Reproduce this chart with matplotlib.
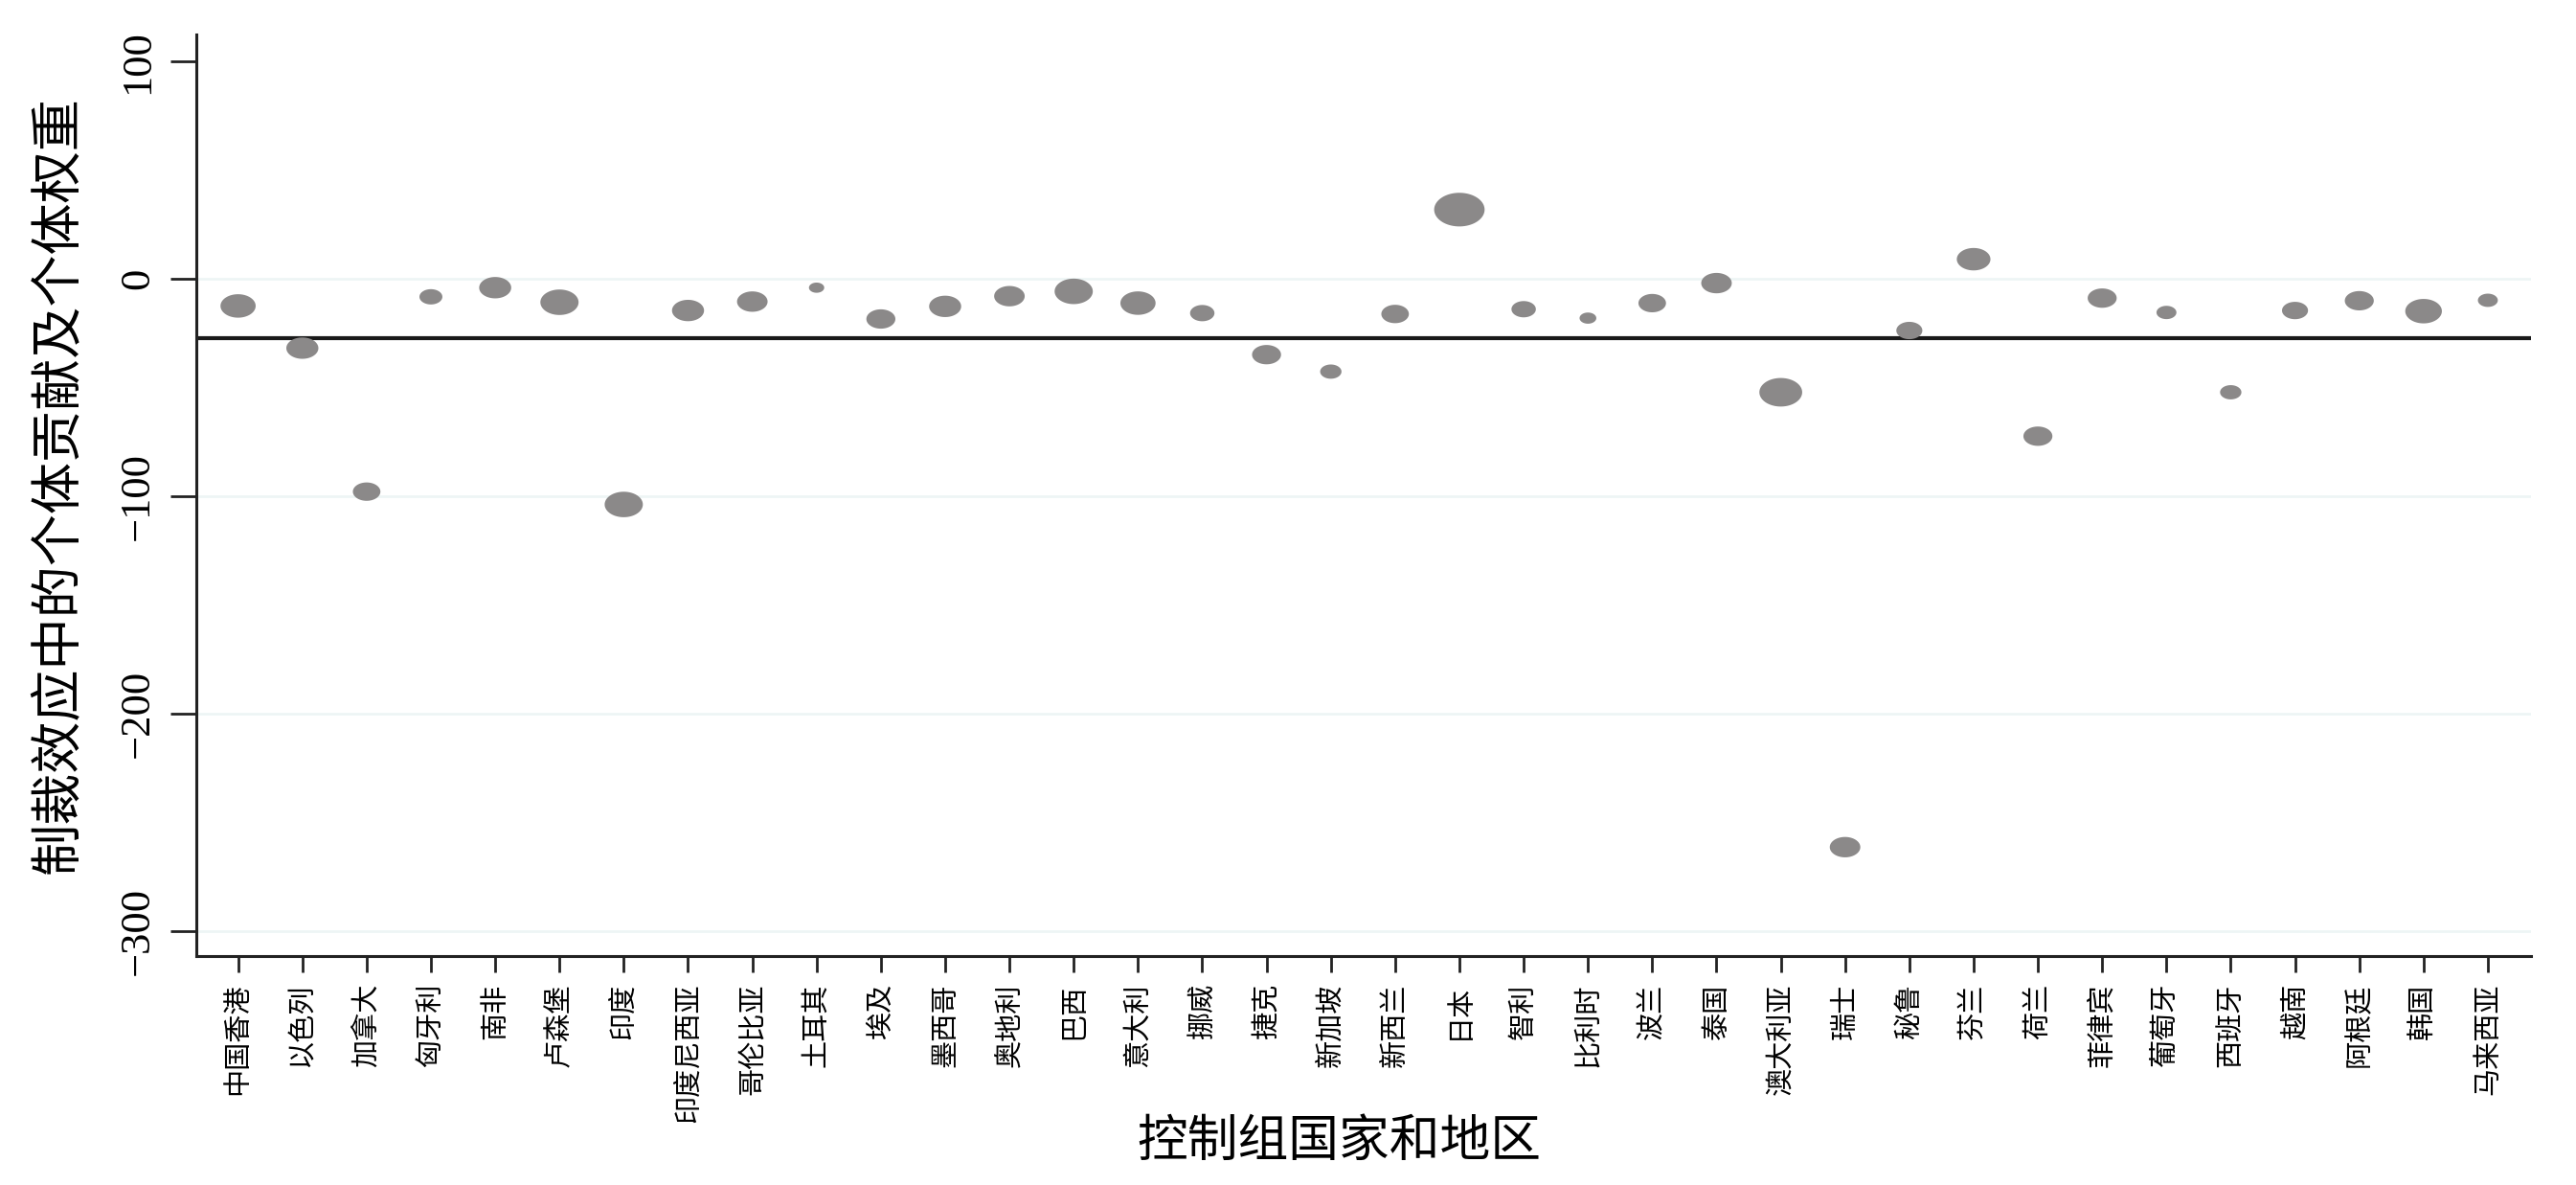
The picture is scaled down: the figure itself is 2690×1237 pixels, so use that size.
import numpy as np
import matplotlib
matplotlib.use("Agg")
import matplotlib.pyplot as plt
from matplotlib.path import Path

plt.rcParams["font.family"] = ["Noto Sans CJK SC", "DejaVu Sans"]

# control group countries/regions, in plot order
countries = [
    "中国香港", "以色列", "加拿大", "匈牙利", "南非", "卢森堡", "印度", "印度尼西亚",
    "哥伦比亚", "土耳其", "埃及", "墨西哥", "奥地利", "巴西", "意大利", "挪威",
    "捷克", "新加坡", "新西兰", "日本", "智利", "比利时", "波兰", "泰国",
    "澳大利亚", "瑞士", "秘鲁", "芬兰", "荷兰", "菲律宾", "葡萄牙", "西班牙",
    "越南", "阿根廷", "韩国", "马来西亚",
]

# individual contribution to the sanction effect
contribution = [
    -12.4, -31.8, -97.8, -8.2, -4.0, -10.7, -103.7, -14.5,
    -10.4, -4.0, -18.4, -12.6, -7.9, -5.7, -11.1, -15.7,
    -34.8, -42.6, -16.1, 31.9, -13.9, -18.0, -11.1, -1.9,
    -52.1, -261.3, -23.7, 9.1, -72.3, -8.8, -15.4, -52.1,
    -14.5, -10.0, -14.8, -9.8,
]

# individual weight (bubble area, relative units)
weight = [
    21.2, 17.6, 13.0, 9.0, 17.6, 25.0, 25.0, 17.6,
    16.0, 4.0, 14.4, 17.6, 16.0, 25.0, 21.2, 10.2,
    14.4, 7.8, 13.0, 43.6, 10.2, 4.8, 13.0, 16.0,
    31.4, 16.0, 11.6, 19.4, 14.4, 14.4, 6.8, 7.8,
    11.6, 14.4, 23.0, 6.8,
]

overall_effect = -27.4
y_ticks = [-300, -200, -100, 0, 100]
grid_levels = [-300, -200, -100, 0]

x = np.arange(1, len(countries) + 1)

# slightly flattened bubbles, as in the original
t = np.linspace(0, 2 * np.pi, 80)
ellipse = Path(np.column_stack([1.5 * np.cos(t), np.sin(t)]), closed=True)

fig = plt.figure(figsize=(26.9, 12.37), dpi=100)
ax = fig.add_axes([0.0762, 0.193, 0.9063, 0.778])

for g in grid_levels:
    ax.axhline(g, color="#eef5f5", lw=2.0, zorder=0)

ax.axhline(overall_effect, color="#1a1a1a", lw=3.0, zorder=2)
ax.scatter(x, contribution, s=np.array(weight) * 33, marker=ellipse,
           color="#8b8989", edgecolors="none", zorder=3)

ax.set_xlim(0.35, 36.67)
ax.set_ylim(-311.5, 112.5)

ax.set_xticks(x)
ax.set_xticklabels(countries, rotation=90, fontsize=21, va="top", ha="center")
ax.set_yticks(y_ticks)
ax.set_yticklabels([f"{v}".replace("-", "\u2212") for v in y_ticks],
                   rotation=90, va="center", ha="right",
                   fontsize=32, family=["Liberation Serif", "DejaVu Sans"])

ax.tick_params(axis="x", length=12.2, width=2.0, pad=8, color="#222222")
ax.tick_params(axis="y", length=19.4, width=2.0, pad=10, color="#222222")

for side in ["top", "right"]:
    ax.spines[side].set_visible(False)
for side in ["left", "bottom"]:
    ax.spines[side].set_linewidth(2.2)
    ax.spines[side].set_color("#222222")

fig.text(0.023, 0.591, "制裁效应中的个体贡献及个体权重", rotation=90,
         ha="center", va="center", fontsize=39)
fig.text(0.520, 0.037, "控制组国家和地区", ha="center", va="center", fontsize=38)

fig.savefig("out.png", dpi=100, facecolor="white")
